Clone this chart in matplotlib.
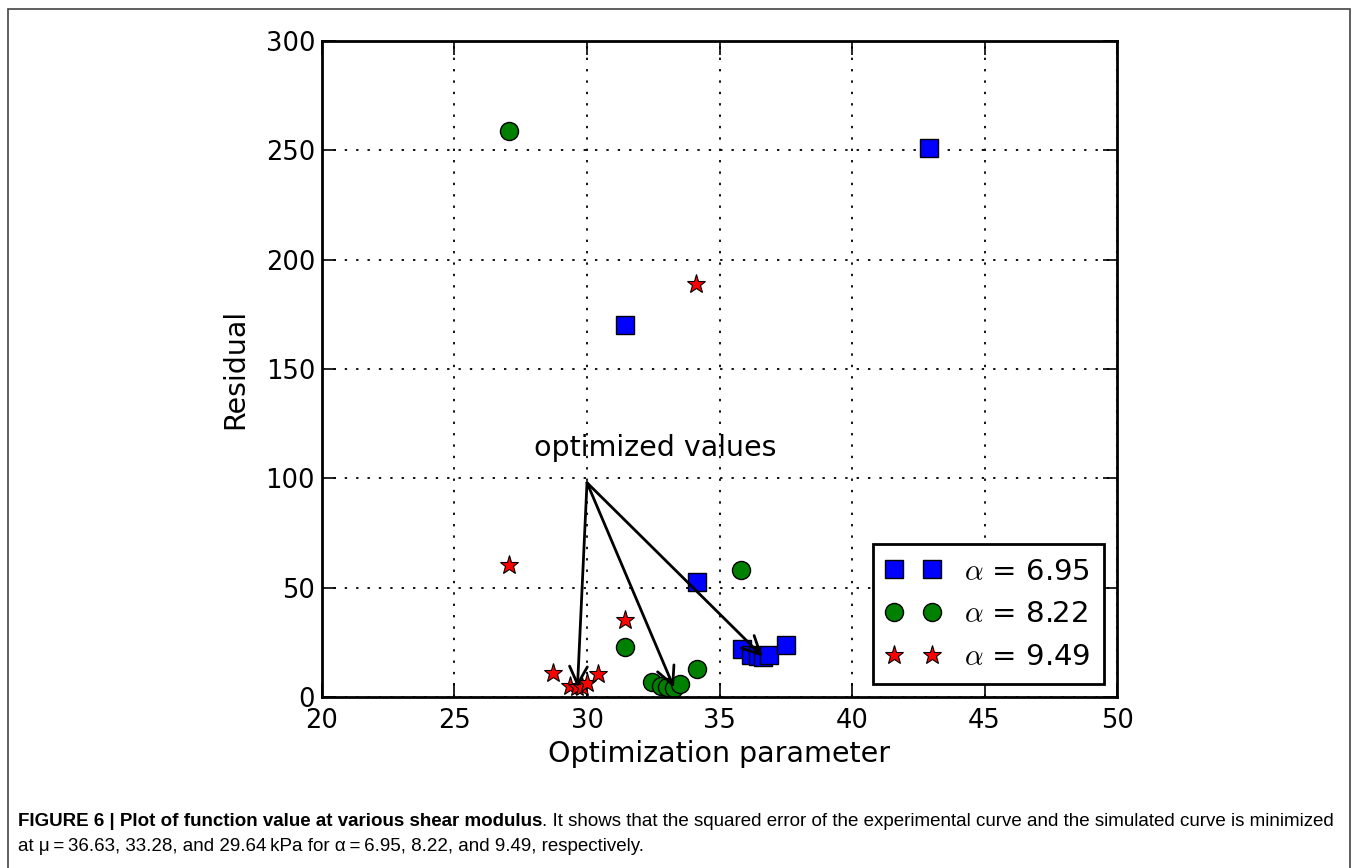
import matplotlib
matplotlib.use('Agg')
import matplotlib.pyplot as plt
from matplotlib.patches import Rectangle

# ------------------------------------------------------ Data -------------------------------------------------------- #
alphas = ['6.95', '8.22', '9.49']

mu_a1 = [31.43, 42.9, 34.15, 35.85, 36.2, 36.45, 36.63, 36.85, 37.5]
res_a1 = [170.0, 251.0, 52.5, 22.0, 19.4, 18.8, 18.5, 19.2, 23.7]

mu_a2 = [27.06, 31.43, 32.47, 32.8, 33.0, 33.28, 33.5, 34.14, 35.8]
res_a2 = [259.0, 23.0, 7.0, 5.0, 4.4, 4.3, 5.9, 12.6, 58.0]

mu_a3 = [27.07, 28.73, 29.36, 29.64, 29.8, 30.0, 30.43, 31.43, 34.1]
res_a3 = [60.3, 10.8, 5.0, 4.4, 4.6, 6.6, 10.6, 35.2, 189.0]

opt_mu = [29.64, 33.28, 36.63]
opt_res = [4.4, 4.3, 18.5]
arrow_start = (30.0, 98.0)

caption_bold = 'FIGURE 6 | Plot of function value at various shear modulus'
caption_1 = ('. It shows that the squared error of the experimental curve and the simulated curve is minimized')
caption_2 = ('at \u03bc\u2009=\u200936.63, 33.28, and 29.64\u2009kPa for \u03b1\u2009=\u20096.95, 8.22, and 9.49, '
             'respectively.')

# ------------------------------------------------------ Plot -------------------------------------------------------- #
plt.rcParams['mathtext.fontset'] = 'cm'

fig = plt.figure(figsize=(13.54, 8.68), dpi=100)
ax = fig.add_axes([0.2378, 0.197, 0.825 - 0.2378, 0.9528 - 0.197])

ax.plot(mu_a1, res_a1, 'bs', markersize=12.5, markeredgecolor='k', markeredgewidth=1,
        label=r'$\alpha$ = ' + alphas[0])
ax.plot(mu_a2, res_a2, 'o', color='green', markersize=13, markeredgecolor='k', markeredgewidth=1,
        label=r'$\alpha$ = ' + alphas[1])
ax.plot(mu_a3, res_a3, 'r*', markersize=14, markeredgecolor='k', markeredgewidth=0.8,
        label=r'$\alpha$ = ' + alphas[2])

for i in range(len(opt_mu)):
    ax.annotate('', xy=(opt_mu[i], opt_res[i]), xytext=arrow_start,
                arrowprops=dict(arrowstyle='->', color='k', lw=2, mutation_scale=32,
                                shrinkA=0, shrinkB=0))
ax.text(28.0, 110, 'optimized values', fontsize=20.5)

ax.set_xlim(20, 50)
ax.set_ylim(0, 300)
ax.set_xticks([20, 25, 30, 35, 40, 45, 50])
ax.set_yticks([0, 50, 100, 150, 200, 250, 300])
ax.grid(True, color='k', linestyle=(0, (1.3, 5)), linewidth=1.3)
ax.tick_params(direction='in', length=10, width=1.2, labelsize=18.5, top=True, right=True)
ax.tick_params(axis='x', pad=8)
ax.tick_params(axis='y', pad=5)
for s in ax.spines.values():
    s.set_linewidth(2)
ax.set_xlabel('Optimization parameter', fontsize=20.5, labelpad=4)
ax.set_ylabel('Residual', fontsize=20.5, labelpad=12)

leg = ax.legend(loc='lower right', numpoints=2, fontsize=21, borderaxespad=0.45,
                fancybox=False, framealpha=1, handletextpad=0.8, borderpad=0.45, labelspacing=0.5,
                handlelength=1.9)
leg.get_frame().set_edgecolor('k')
leg.get_frame().set_linewidth(2)

# outer frame
fig.add_artist(Rectangle((8 / 1354, -0.01), (1350 - 8) / 1354, 1 - 9 / 868 + 0.01,
                         transform=fig.transFigure, fill=False, edgecolor='#444444', linewidth=1.2))

# caption
cap_font = ['Liberation Sans', 'DejaVu Sans']
t1 = fig.text(18 / 1354, 1 - 826 / 868, caption_bold, fontsize=13.5, fontweight='bold', family=cap_font)
fig.canvas.draw()
bb = t1.get_window_extent()
fig.text(bb.x1 / 1354, 1 - 826 / 868, caption_1, fontsize=13.5, family=cap_font)
fig.text(18 / 1354, 1 - 851 / 868, caption_2, fontsize=13.5, family=cap_font)

fig.savefig('out.png', dpi=100)
